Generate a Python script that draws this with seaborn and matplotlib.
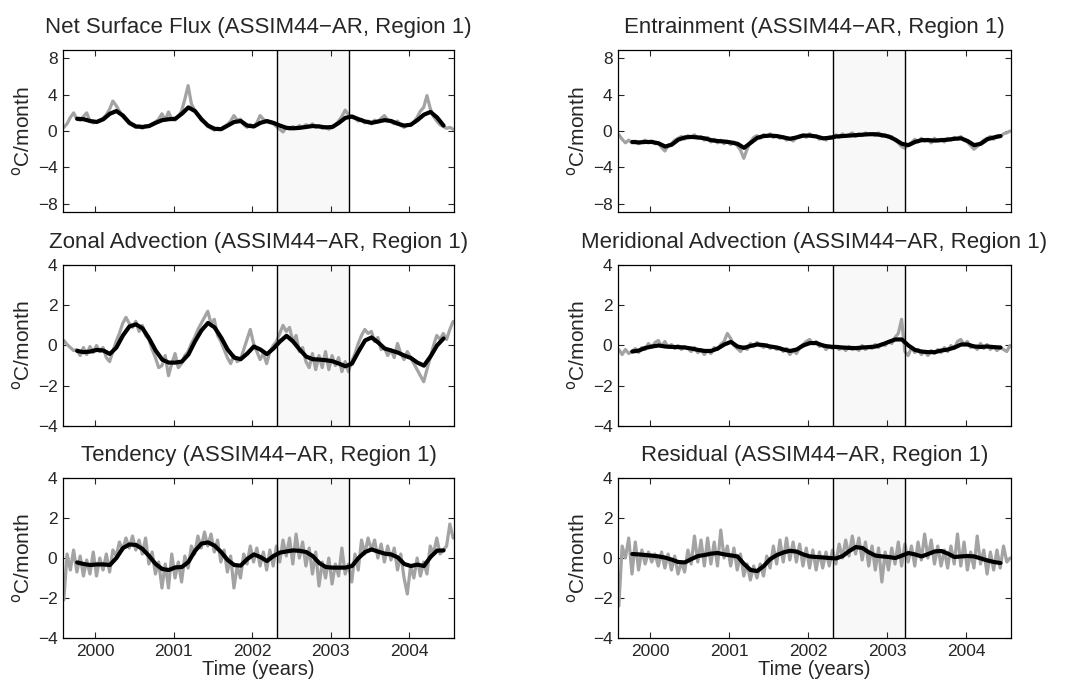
import numpy as np
import matplotlib
matplotlib.use("Agg")
import matplotlib.pyplot as plt
import seaborn as sns

sns.set_style("ticks")
plt.rcParams["font.family"] = ["Liberation Sans", "DejaVu Sans"]

# Sampling times in decimal years
t_raw = 1999.60 + np.arange(120) / 24.0      # half-monthly raw terms
t_smooth = 1999.77 + np.arange(57) / 12.0    # monthly low-pass terms

# Event window marked in every panel
event_start = 2002.32
event_end = 2003.23

# ---- Net surface flux ----
net_raw = [0.4, 0.8, 1.5, 2.0, 1.3, 1.2, 1.6, 2.0, 1.1, 0.9,
           1.0, 1.2, 1.4, 1.8, 2.4, 3.3, 2.8, 2.2, 1.6, 1.2,
           0.8, 0.6, 0.4, 0.6, 0.3, 0.6, 0.5, 0.8, 1.0, 1.3,
           1.9, 1.2, 2.1, 1.3, 1.2, 1.6, 2.2, 3.5, 5.0, 3.0,
           2.3, 1.8, 1.2, 0.9, 0.5, 0.3, 0.1, 0.3, 0.2, 0.5,
           0.7, 1.1, 1.7, 1.2, 1.3, 0.7, 0.4, 0.7, 0.5, 0.9,
           1.7, 1.3, 1.0, 0.9, 0.8, 0.5, 0.2, -0.1, 0.4, 0.2,
           0.5, 0.3, 0.6, 0.4, 0.7, 0.5, 0.8, 0.4, 0.6, 0.3,
           0.5, 0.2, 0.4, 0.6, 1.1, 1.6, 2.3, 1.8, 1.5, 1.4,
           1.1, 1.3, 0.9, 1.1, 0.8, 1.2, 1.0, 1.4, 1.7, 1.2,
           1.0, 0.8, 1.1, 0.6, 0.4, 0.7, 0.6, 1.0, 1.5, 2.2,
           2.6, 3.9, 2.5, 1.6, 1.1, 0.7, 0.5, 0.3, 0.4, 0.2]
net_smooth = [1.35, 1.3, 1.1, 1.0, 1.3, 1.9, 2.2, 1.7, 0.9, 0.5,
              0.45, 0.55, 0.9, 1.2, 1.3, 1.35, 1.9, 2.6, 2.2, 1.3,
              0.6, 0.25, 0.2, 0.6, 1.0, 1.1, 0.6, 0.5, 0.9, 1.1,
              0.9, 0.6, 0.35, 0.3, 0.35, 0.45, 0.55, 0.5, 0.4, 0.45,
              0.9, 1.45, 1.6, 1.3, 1.05, 0.9, 1.05, 1.2, 1.1, 0.8,
              0.6, 0.7, 1.2, 1.8, 2.1, 1.5, 0.6]

# ---- Entrainment ----
ent_raw = [-0.4, -0.9, -1.3, -1.0, -1.3, -1.1, -1.4, -1.2, -1.0, -1.3,
           -1.1, -1.4, -1.3, -1.8, -2.2, -1.6, -1.4, -1.0, -0.8, -0.6,
           -0.9, -0.5, -0.7, -0.4, -0.8, -0.6, -1.0, -0.7, -1.2, -0.9,
           -1.3, -1.0, -1.4, -1.1, -1.5, -1.2, -1.6, -2.1, -3.0, -2.0,
           -1.2, -0.7, -0.5, -0.8, -0.4, -0.6, -0.3, -0.7, -0.5, -0.8,
           -0.6, -1.0, -0.8, -1.1, -0.7, -0.5, -0.4, -0.7, -0.3, -0.6,
           -0.5, -0.9, -0.7, -1.0, -0.6, -0.8, -0.4, -0.7, -0.3, -0.6,
           -0.4, -0.2, -0.6, -0.3, -0.5, -0.2, -0.4, -0.3, -0.5, -0.2,
           -0.6, -0.4, -0.7, -0.6, -1.0, -1.3, -1.7, -1.9, -1.5, -1.3,
           -0.9, -1.2, -0.8, -1.1, -0.9, -1.3, -0.8, -1.1, -0.9, -1.2,
           -0.8, -1.0, -0.7, -0.9, -0.6, -1.0, -1.2, -1.6, -2.0, -1.7,
           -1.3, -1.0, -0.8, -0.6, -0.9, -0.5, -0.6, -0.3, -0.2, 0.0]
ent_smooth = [-1.2, -1.25, -1.2, -1.2, -1.35, -1.7, -1.5, -0.95, -0.7, -0.65,
              -0.7, -0.8, -1.0, -1.1, -1.15, -1.25, -1.4, -1.85, -1.3, -0.75,
              -0.55, -0.5, -0.55, -0.7, -0.85, -0.7, -0.5, -0.5, -0.6, -0.8,
              -0.75, -0.6, -0.55, -0.5, -0.45, -0.4, -0.35, -0.35, -0.45, -0.6,
              -0.95, -1.4, -1.55, -1.2, -1.0, -1.0, -1.05, -1.0, -0.95, -0.85,
              -0.8, -1.1, -1.55, -1.4, -0.9, -0.7, -0.55]

# ---- Zonal advection ----
zon_raw = [0.25, 0.05, -0.1, -0.25, -0.2, -0.5, -0.1, -0.45, -0.05, -0.35,
           0.0, -0.3, -0.1, -0.6, -0.8, -0.3, 0.2, 0.6, 1.1, 1.4,
           1.1, 0.9, 1.2, 0.7, 1.0, 0.5, 0.3, -0.2, -0.6, -1.1,
           -1.0, -0.5, -1.5, -0.9, -0.4, -1.1, -0.9, -0.5, -0.3, 0.1,
           0.4, 0.8, 1.1, 1.4, 1.7, 1.1, 1.3, 0.5, 0.2, -0.2,
           -0.6, -0.9, -0.5, -0.8, -0.7, -0.2, 0.3, 0.8, 0.1, -0.3,
           -0.7, -0.4, -0.9, -0.3, 0.0, 0.2, 0.6, 1.0, 0.7, 0.9,
           0.2, 0.5, -0.3, -0.1, -0.8, -1.1, -0.4, -1.2, -0.5, -1.1,
           -0.3, -1.2, -0.5, -1.0, -0.6, -1.3, -0.8, -1.3, -0.8, -0.4,
           0.1, 0.5, 0.8, 0.6, 0.7, 0.2, 0.4, -0.2, -0.1, -0.5,
           -0.2, -0.6, 0.1, -0.4, -0.7, -0.3, -0.6, -0.9, -1.2, -1.5,
           -1.8, -1.2, -0.6, 0.0, 0.5, 0.3, 0.6, 0.3, 0.8, 1.2]
zon_smooth = [-0.27, -0.33, -0.3, -0.22, -0.25, -0.42, -0.1, 0.5, 0.95, 1.05,
              0.85, 0.35, -0.25, -0.7, -0.85, -0.85, -0.8, -0.45, 0.2, 0.75,
              1.12, 0.9, 0.4, -0.2, -0.6, -0.68, -0.4, -0.05, -0.2, -0.43,
              -0.15, 0.2, 0.48, 0.2, -0.2, -0.55, -0.68, -0.7, -0.73, -0.78,
              -0.9, -1.03, -0.9, -0.3, 0.25, 0.4, 0.15, -0.15, -0.25, -0.35,
              -0.5, -0.62, -0.85, -1.0, -0.55, 0.0, 0.35]

# ---- Meridional advection ----
mer_raw = [-0.2, -0.45, -0.2, -0.4, -0.3, -0.15, -0.35, -0.1, -0.2, 0.1,
           -0.1, 0.15, 0.25, -0.05, 0.2, -0.1, 0.05, -0.15, 0.0, -0.2,
           -0.05, -0.15, -0.3, -0.1, -0.35, -0.2, -0.45, -0.25, -0.4, -0.1,
           -0.2, 0.05, 0.2, 0.6, 0.35, 0.0, -0.15, -0.3, -0.05, -0.2,
           0.1, -0.05, 0.15, 0.0, -0.1, 0.05, -0.15, -0.05, -0.2, -0.1,
           -0.3, -0.15, -0.45, -0.25, -0.4, -0.1, 0.05, 0.2, 0.3, 0.1,
           0.2, -0.05, 0.05, -0.2, 0.0, -0.15, -0.05, -0.2, -0.1, -0.25,
           -0.05, -0.2, -0.1, -0.25, 0.0, -0.2, -0.05, -0.15, 0.05, -0.1,
           0.1, 0.0, 0.2, 0.1, 0.4, 0.6, 1.3, -0.3, -0.5, -0.1,
           -0.35, -0.2, -0.45, -0.3, -0.5, -0.25, -0.4, -0.2, -0.35, -0.1,
           -0.3, 0.0, -0.15, 0.2, 0.3, 0.05, 0.2, -0.1, 0.0, -0.2,
           0.1, -0.15, 0.05, -0.2, -0.05, -0.25, -0.1, -0.2, -0.3, 0.0]
mer_smooth = [-0.3, -0.25, -0.12, -0.05, 0.0, -0.05, -0.07, -0.08, -0.1, -0.15,
              -0.22, -0.27, -0.27, -0.15, 0.05, 0.18, -0.05, -0.12, -0.02, 0.05,
              0.02, -0.05, -0.1, -0.2, -0.27, -0.2, 0.0, 0.12, 0.12, 0.0,
              -0.06, -0.07, -0.1, -0.12, -0.13, -0.1, -0.08, -0.05, 0.05, 0.18,
              0.3, 0.3, 0.0, -0.22, -0.3, -0.33, -0.33, -0.25, -0.2, -0.1,
              0.05, 0.05, -0.05, -0.07, -0.05, -0.08, -0.1]

# ---- Tendency ----
ten_raw = [-2.1, 0.2, -0.6, 0.4, -0.7, 0.1, -0.9, -0.1, -0.8, 0.3,
           -0.9, 0.0, -0.6, 0.2, -0.7, 0.4, 0.1, 0.8, 0.4, 1.0,
           0.5, 1.1, 0.4, 0.9, 0.2, 1.0, -0.3, 0.3, -0.8, -0.2,
           -1.5, -0.3, -1.5, 0.2, -1.0, -0.2, -1.2, 0.1, -0.5, 0.6,
           0.2, 1.1, 0.5, 1.3, 0.6, 1.2, 0.3, 0.9, -0.2, 0.4,
           -0.7, 0.1, -1.5, -0.4, -1.0, 0.2, -0.3, 0.6, -0.2, 0.5,
           -0.4, 0.3, -0.6, 0.4, -0.4, 0.6, -0.2, 0.9, 0.1, 1.0,
           -0.3, 1.2, 0.0, 0.8, -0.4, 0.5, -0.8, 0.3, -1.4, -0.2,
           -1.0, 0.0, -1.3, -0.3, -0.9, 0.5, -0.8, -0.3, -1.2, 0.2,
           -0.6, 0.9, 0.2, 1.0, 0.4, 0.9, 0.0, 0.7, -0.2, 0.6,
           -0.1, 0.5, -0.6, 0.2, -1.0, -1.8, -0.4, -1.0, 0.0, -0.9,
           -0.2, -0.8, 0.6, 0.2, 1.0, 0.2, 0.4, 0.6, 1.7, 1.0]
ten_smooth = [-0.22, -0.3, -0.35, -0.32, -0.32, -0.35, 0.0, 0.5, 0.68, 0.65,
              0.45, 0.1, -0.3, -0.55, -0.6, -0.47, -0.45, -0.2, 0.35, 0.72,
              0.78, 0.62, 0.3, -0.1, -0.35, -0.38, -0.05, 0.18, 0.05, -0.15,
              0.1, 0.27, 0.33, 0.38, 0.36, 0.3, 0.1, -0.25, -0.45, -0.48,
              -0.48, -0.48, -0.4, 0.0, 0.3, 0.43, 0.32, 0.22, 0.18, 0.03,
              -0.3, -0.4, -0.33, -0.4, 0.05, 0.37, 0.38]

# ---- Residual ----
res_raw = [-2.4, 0.6, 0.0, 1.0, -0.8, 0.8, -0.6, 0.4, -0.3, 0.3,
           -0.2, 0.2, -0.4, 0.3, -0.5, 0.2, -0.6, 0.1, -0.8, -0.2,
           -0.7, 0.4, -0.3, 1.1, -0.2, 0.9, -0.4, 1.0, -0.3, 0.8,
           -0.4, 1.4, 0.0, 0.6, -0.4, 0.5, -0.6, 0.2, -0.9, -0.3,
           -1.1, -0.4, -1.0, -0.3, -0.9, 0.1, -0.5, 0.6, -0.3, 0.9,
           -0.2, 1.0, -0.1, 0.8, -0.2, 0.7, -0.4, 0.5, -0.5, 0.4,
           -0.6, 0.3, -0.5, 0.3, -0.4, 0.4, -0.3, 0.7, 0.0, 0.9,
           0.1, 1.1, 0.2, 1.0, -0.1, 0.8, -0.4, 0.6, -0.6, 0.5,
           -1.2, 0.3, -0.6, 0.5, -0.3, 0.8, -0.4, 0.7, -0.2, 0.6,
           -0.4, 0.8, -0.1, 1.2, 0.0, 0.9, -0.3, 0.6, -0.4, 0.4,
           -0.5, 0.6, -0.3, 1.2, -0.4, 0.8, -0.6, 0.3, -0.5, 1.1,
           -0.3, 0.4, -0.8, 0.3, -0.6, 0.4, -0.5, 0.6, -0.2, 0.0]
res_smooth = [0.2, 0.18, 0.15, 0.12, 0.08, 0.02, -0.08, -0.2, -0.22, -0.05,
              0.1, 0.15, 0.22, 0.25, 0.18, 0.13, 0.08, -0.3, -0.6, -0.65,
              -0.4, -0.05, 0.15, 0.28, 0.36, 0.32, 0.18, 0.08, 0.05, 0.03,
              0.0, -0.02, 0.1, 0.35, 0.55, 0.5, 0.28, 0.12, 0.08, 0.05,
              0.0, 0.12, 0.25, 0.18, 0.08, 0.2, 0.33, 0.35, 0.22, 0.05,
              0.08, 0.1, 0.08, -0.02, -0.12, -0.2, -0.25]

titles = ["Net Surface Flux (ASSIM44\u2212AR, Region 1)",
          "Entrainment (ASSIM44\u2212AR, Region 1)",
          "Zonal Advection (ASSIM44\u2212AR, Region 1)",
          "Meridional Advection (ASSIM44\u2212AR, Region 1)",
          "Tendency (ASSIM44\u2212AR, Region 1)",
          "Residual (ASSIM44\u2212AR, Region 1)"]
raw_series = [net_raw, ent_raw, zon_raw, mer_raw, ten_raw, res_raw]
smooth_series = [net_smooth, ent_smooth, zon_smooth, mer_smooth, ten_smooth, res_smooth]
year_ticks = [2000, 2001, 2002, 2003, 2004]

fig = plt.figure(figsize=(10.79, 6.89), dpi=100)

col_left = [0.0584, 0.5728]
col_width = [0.3624, 0.3642]
row_bottom = [0.6923, 0.3817, 0.0740]
row_height = [0.2350, 0.2337, 0.2322]

for i in range(6):
    r, c = divmod(i, 2)
    ax = fig.add_axes([col_left[c], row_bottom[r], col_width[c], row_height[r]])

    ax.axvspan(event_start, event_end, color="#f8f8f8", zorder=0, lw=0)
    sns.lineplot(x=t_raw, y=raw_series[i], ax=ax, color="#a3a3a3", lw=2.3,
                 estimator=None, zorder=2)
    sns.lineplot(x=t_smooth, y=smooth_series[i], ax=ax, color="black", lw=3.0,
                 estimator=None, zorder=3)
    ax.axvline(event_start, color="black", lw=1.0, zorder=4)
    ax.axvline(event_end, color="black", lw=1.0, zorder=4)

    ax.set_xlim(1999.59, 2004.57)
    ax.set_xticks(year_ticks)
    if r == 0:
        ax.set_ylim(-8.9, 8.9)
        ax.set_yticks([-8, -4, 0, 4, 8])
    else:
        ax.set_ylim(-4, 4)
        ax.set_yticks([-4, -2, 0, 2, 4])
    ax.set_yticklabels([("\u2212%d" % -v) if v < 0 else "%d" % v for v in ax.get_yticks()])

    if r == 2:
        ax.set_xticklabels([str(y) for y in year_ticks])
        ax.set_xlabel("Time (years)", fontsize=14.5, labelpad=1)
    else:
        ax.set_xticklabels([])
        ax.set_xlabel("")

    ax.set_ylabel(r"$^{\rm o}$C/month", fontsize=15, labelpad=3)
    ax.set_title(titles[i], fontsize=16, pad=12)
    ax.tick_params(direction="in", top=True, right=True, length=4,
                   width=0.8, labelsize=12.5, pad=4)
    for sp in ax.spines.values():
        sp.set_linewidth(0.9)
        sp.set_color("black")

fig.savefig("out.png", dpi=100)
